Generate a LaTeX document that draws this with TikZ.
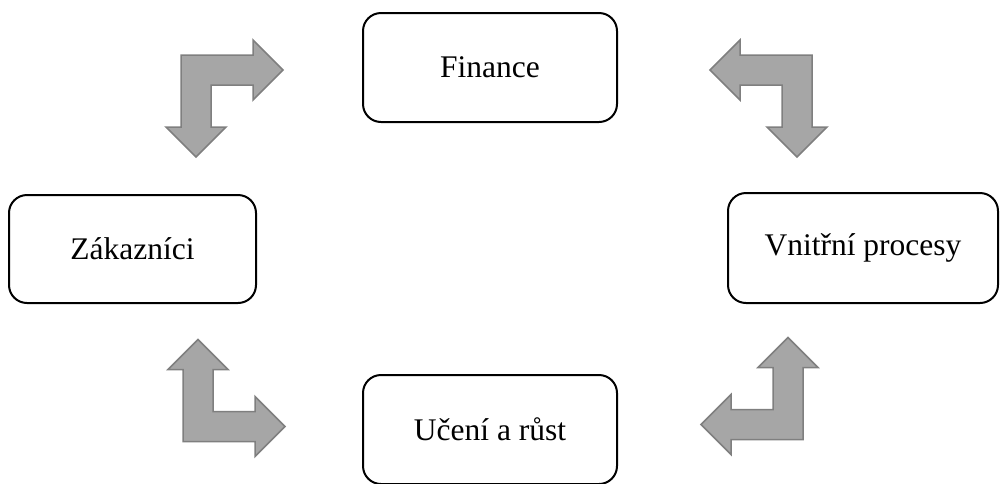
\documentclass[tikz,border=0pt]{standalone}
\usepackage{fontspec}
\setmainfont{Liberation Serif}
\usepackage{tikz}
\usetikzlibrary{positioning}
\definecolor{arrowfill}{HTML}{A6A6A6}
\definecolor{arrowedge}{HTML}{7F7F7F}
\tikzset{
  perspective/.style={rectangle, rounded corners=18pt, draw=black, line width=2pt, fill=white, align=center, font=\fontsize{31.5}{38}\selectfont},
  bentarrow/.pic={
    \draw[fill=arrowfill, draw=arrowedge, line width=1.5pt, line join=miter]
      (0,0) -- (72,0) -- (72,-15) -- (102,15) -- (72,45) -- (72,30) -- (30,30)
      -- (30,72) -- (45,72) -- (15,102) -- (-15,72) -- (0,72) -- cycle;
  },
}
\begin{document}
\begin{tikzpicture}[x=1pt, y=-1pt]
  \useasboundingbox (0,0) rectangle (1000,483);

  % Perspectives
  \node[perspective, minimum width=254pt, minimum height=109pt] (fin) at (490,67.5) {Finance};
  \node[perspective, minimum width=247pt, minimum height=108pt] (zak) at (132.5,249) {Zákazníci};
  \node[perspective, minimum width=270pt, minimum height=110pt] (vnp) at (863,248) {Vnitřní procesy};
  \node[perspective, minimum width=254pt, minimum height=109pt] (uce) at (490,429.5) {Učení a růst};

  % Bent arrows between perspectives
  \pic at (181,55) {bentarrow};
  \pic[xscale=-1] at (812,55) {bentarrow};
  \pic[yscale=-1] at (183,441.5) {bentarrow};
  \pic[xscale=-1, yscale=-1] at (803,439.5) {bentarrow};
\end{tikzpicture}
\end{document}
